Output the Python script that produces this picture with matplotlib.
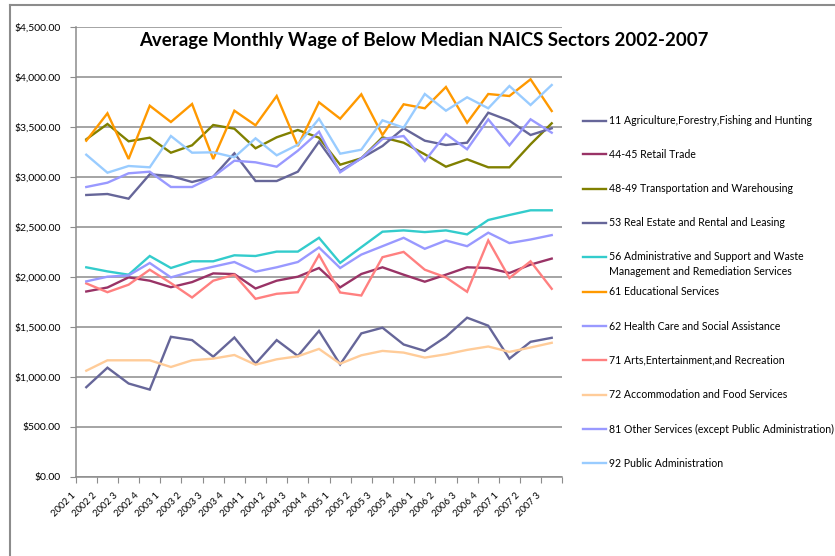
import matplotlib
matplotlib.use("Agg")
import matplotlib.pyplot as plt
from matplotlib.lines import Line2D
import matplotlib.transforms as mtransforms

plt.rcParams['font.family'] = ['Lato', 'DejaVu Sans']

quarters = ["2002 1", "2002 2", "2002 3", "2002 4", "2003 1", "2003 2", "2003 3", "2003 4",
            "2004 1", "2004 2", "2004 3", "2004 4", "2005 1", "2005 2", "2005 3", "2005 4",
            "2006 1", "2006 2", "2006 3", "2006 4", "2007 1", "2007 2", "2007 3"]

agriculture = [895, 1090, 932, 871, 1399, 1366, 1200, 1392, 1130, 1366, 1207, 1458,
               1123, 1433, 1490, 1322, 1258, 1399, 1590, 1510, 1180, 1349, 1389]
retail = [1852, 1892, 1993, 1960, 1895, 1946, 2033, 2026, 1882, 1960, 2000, 2087,
          1893, 2027, 2094, 2020, 1950, 2020, 2094, 2087, 2037, 2121, 2181]
transportation = [3374, 3527, 3354, 3390, 3240, 3314, 3517, 3480, 3284, 3394, 3467, 3390,
                  3120, 3184, 3394, 3340, 3224, 3100, 3174, 3094, 3094, 3324, 3534]
real_estate = [2817, 2827, 2780, 3024, 3007, 2947, 3000, 3234, 2957, 2957, 3050, 3350,
               3057, 3184, 3307, 3484, 3360, 3317, 3340, 3640, 3560, 3417, 3484]
administrative = [2094, 2053, 2020, 2207, 2087, 2154, 2154, 2214, 2207, 2251, 2251, 2389,
                  2138, 2295, 2450, 2463, 2446, 2463, 2423, 2567, 2617, 2664, 2664]
educational = [3360, 3634, 3177, 3710, 3547, 3727, 3177, 3660, 3514, 3807, 3307, 3744,
               3580, 3824, 3417, 3724, 3684, 3897, 3540, 3827, 3807, 3974, 3657]
health_care = [2897, 2940, 3034, 3050, 2897, 2897, 3000, 3160, 3144, 3100, 3260, 3450,
               3044, 3184, 3377, 3407, 3157, 3427, 3274, 3574, 3314, 3574, 3440]
arts = [1933, 1845, 1920, 2070, 1936, 1792, 1960, 2020, 1779, 1829, 1845, 2218,
        1842, 1812, 2195, 2248, 2070, 1993, 1849, 2362, 1987, 2154, 1879]
accommodation = [1060, 1164, 1164, 1164, 1097, 1164, 1181, 1217, 1120, 1174, 1204, 1278,
                 1130, 1214, 1258, 1241, 1191, 1224, 1268, 1302, 1248, 1292, 1339]
other_services = [1953, 2000, 2013, 2137, 1993, 2053, 2100, 2147, 2050, 2094, 2147, 2292,
                  2087, 2221, 2305, 2389, 2279, 2362, 2305, 2440, 2336, 2372, 2416]
public_admin = [3220, 3040, 3107, 3094, 3407, 3240, 3244, 3194, 3384, 3214, 3320, 3580,
                3230, 3270, 3564, 3490, 3827, 3660, 3794, 3684, 3907, 3717, 3917]

labels = ["11 Agriculture,Forestry,Fishing and Hunting",
          "44-45 Retail Trade",
          "48-49 Transportation and Warehousing",
          "53 Real Estate and Rental and Leasing",
          "56 Administrative and Support and Waste\nManagement and Remediation Services",
          "61 Educational Services",
          "62 Health Care and Social Assistance",
          "71 Arts,Entertainment,and Recreation",
          "72 Accommodation and Food Services",
          "81 Other Services (except Public Administration)",
          "92 Public Administration"]
series = [agriculture, retail, transportation, real_estate, administrative, educational,
          health_care, arts, accommodation, other_services, public_admin]
colors = ["#666699", "#993366", "#808000", "#666699", "#33CCCC", "#FF9900",
          "#9999FF", "#FF8080", "#FFCC99", "#9999FF", "#99CCFF"]

W, H = 835, 556
fig = plt.figure(figsize=(W / 100, H / 100), dpi=100)

def fx(px):
    return px / W

def fy(py):
    return 1 - py / H

ax = fig.add_axes([fx(75.7), fy(476.7), fx(562.3) - fx(75.7), (476.7 - 26.7) / H])

x = list(range(len(quarters)))
for vals, col in zip(series, colors):
    ax.plot(x, vals, color=col, lw=1.7, solid_joinstyle='miter')

ax.set_xlim(-0.5, len(quarters) - 0.5)
ax.set_ylim(0, 4500)
ax.set_yticks(range(0, 4501, 500))
ax.set_yticklabels([f"${v:,.2f}" for v in range(0, 4501, 500)], fontsize=7.5)
ax.yaxis.grid(True, color='#8c8c8c', lw=1.1)
ax.set_axisbelow(True)

ax.set_xticks([i - 0.5 for i in range(len(quarters) + 1)], minor=False)
ax.set_xticklabels([])
ax.set_xticks(x, minor=True)
ax.set_xticklabels(quarters, minor=True, rotation=45, ha='right', fontsize=6.8)
ax.tick_params(axis='x', which='minor', length=0, pad=10)
ax.tick_params(axis='x', which='major', length=4, color='#8c8c8c', direction='out')
ax.tick_params(axis='y', length=4, color='#8c8c8c', direction='out', pad=7)
offset = mtransforms.ScaledTranslation(-9 / 100, 0, fig.dpi_scale_trans)
for lab in ax.get_xticklabels(minor=True):
    lab.set_transform(lab.get_transform() + offset)

for s in ['top', 'right']:
    ax.spines[s].set_visible(False)
for s in ['left', 'bottom']:
    ax.spines[s].set_color('#8c8c8c')
    ax.spines[s].set_linewidth(1.1)

fig.text(fx(424), fy(46), "Average Monthly Wage of Below Median NAICS Sectors 2002-2007",
         ha='center', va='baseline', fontsize=13.4, fontweight='bold')

# legend (manual)
leg_y = [120.7, 154.5, 189, 223, 257, 291.5, 326, 360.3, 394.5, 429, 463.3]
for lab, col, yy in zip(labels, colors, leg_y):
    fig.add_artist(Line2D([fx(583), fx(606)], [fy(yy), fy(yy)], color=col, lw=1.7))
    if '\n' in lab:
        fig.text(fx(609), fy(yy - 6.5), lab, ha='left', va='top',
                 fontsize=7.6, linespacing=1.5)
    else:
        fig.text(fx(609), fy(yy), lab, ha='left', va='center', fontsize=7.6)

# chart-area border (top and left)
fig.add_artist(Line2D([fx(10), fx(835)], [fy(5), fy(5)], color='#8c8c8c', lw=1.5))
fig.add_artist(Line2D([fx(10), fx(10)], [fy(5), fy(556)], color='#8c8c8c', lw=1.5))

fig.savefig("out.png", dpi=100)
